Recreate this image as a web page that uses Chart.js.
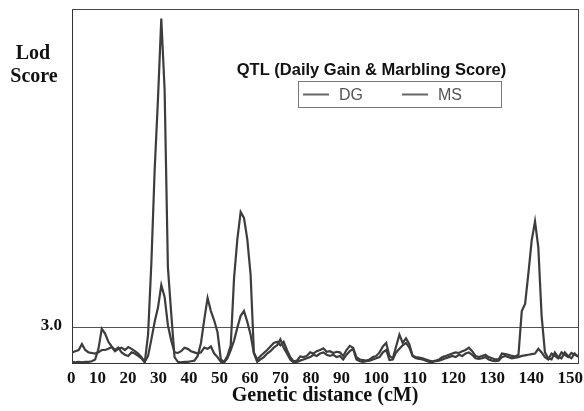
<!DOCTYPE html>
<html>
<head>
<meta charset="utf-8">
<script src="https://cdn.jsdelivr.net/npm/chart.js@4.4.1/dist/chart.umd.min.js"></script>
<style>
    html, body { margin: 0; padding: 0; background: #fff; }
    #wrap { position: relative; width: 584px; height: 411px; }
</style>
</head>
<body>
<div id="wrap"><canvas id="qtlChart"></canvas></div>
<script>
// Data (cM along the linear plot axis, LOD score)
const DISTANCE = [
    0, 1, 2, 3, 4, 5, 6, 7, 8, 9, 10, 11, 12, 13, 14, 15, 16, 17, 18, 19,
    20, 21, 22, 23, 24, 25, 26, 27, 28, 29, 30, 31, 32, 33, 34, 35, 36, 37, 38, 39,
    40, 41, 42, 43, 44, 45, 46, 47, 48, 49, 50, 51, 52, 53, 54, 55, 56, 57, 58, 59,
    60, 61, 62, 63, 64, 65, 66, 67, 68, 69, 70, 71, 72, 73, 74, 75, 76, 77, 78, 79,
    80, 81, 82, 83, 84, 85, 86, 87, 88, 89, 90, 91, 92, 93, 94, 95, 96, 97, 98, 99,
    100, 101, 102, 103, 104, 105, 106, 107, 108, 109, 110, 111, 112, 113, 114, 115, 116, 117, 118, 119,
    120, 121, 122, 123, 124, 125, 126, 127, 128, 129, 130, 131, 132, 133, 134, 135, 136, 137, 138, 139,
    140, 141, 142, 143, 144, 145, 146, 147, 148, 149, 150, 151, 152, 153
];

const DG = [
    0.1, 0.05, 0.1, 0.05, 0.1, 0.1, 0.15, 0.3, 1.2, 2.9, 2.5, 1.8, 1.4, 1.1, 1.3, 0.9, 0.7, 0.6, 0.9, 0.8,
    0.6, 0.4, 0.05, 2.4, 8.5, 16.4, 22.4, 29.2, 23.2, 8.1, 4.2, 0.5, 0.1, 0.05, 0.1, 0.1, 0.15, 0.2, 0.6, 1.7,
    3.7, 5.5, 4.4, 3.6, 2.6, 0.3, 0.1, 0.6, 1.5, 7.2, 10.5, 12.8, 12.3, 10.5, 7.5, 0.9, 0.3, 0.6, 0.85, 1.1,
    1.4, 1.7, 1.8, 1.5, 1.8, 1.1, 0.5, 0.15, 0.2, 0.55, 0.5, 0.6, 0.9, 0.8, 1.0, 1.1, 1.25, 0.95, 1.0, 0.85,
    0.95, 0.9, 0.6, 1.1, 1.45, 1.3, 0.5, 0.3, 0.25, 0.2, 0.3, 0.5, 0.6, 0.9, 1.4, 1.7, 0.6, 0.4, 1.4, 2.4,
    1.7, 2.1, 1.6, 0.6, 0.5, 0.45, 0.4, 0.3, 0.2, 0.15, 0.2, 0.3, 0.5, 0.6, 0.7, 0.8, 0.9, 0.85, 1.0, 1.1,
    1.3, 1.0, 0.6, 0.5, 0.6, 0.7, 0.5, 0.4, 0.3, 0.3, 0.8, 0.75, 0.7, 0.6, 0.55, 0.7, 4.4, 5.0, 7.6, 10.4,
    12.0, 9.8, 4.0, 0.9, 0.4, 0.3, 0.9, 0.5, 0.4, 0.9, 0.6, 0.4, 0.8, 0.5
];

const MS = [
    0.9, 1.0, 1.1, 1.6, 1.1, 0.9, 0.85, 0.8, 0.9, 1.1, 1.1, 1.2, 1.35, 1.0, 1.2, 1.3, 1.1, 1.35, 1.2, 1.0,
    0.8, 0.5, 0.1, 0.6, 2.0, 3.5, 4.7, 6.6, 5.6, 3.2, 1.9, 0.9, 0.85, 1.0, 1.3, 1.2, 1.0, 0.9, 0.8, 0.9,
    1.3, 1.2, 1.4, 0.8, 0.5, 0.1, 0.05, 0.4, 1.1, 1.9, 3.0, 4.0, 4.4, 3.5, 2.4, 0.8, 0.1, 0.3, 0.5, 0.8,
    1.0, 1.3, 1.5, 2.0, 1.3, 0.8, 0.3, 0.05, 0.1, 0.2, 0.3, 0.4, 0.5, 0.7, 0.6, 0.8, 0.9, 0.7, 0.6, 0.7,
    0.5, 0.6, 0.3, 0.7, 1.0, 1.2, 0.3, 0.15, 0.1, 0.15, 0.2, 0.3, 0.4, 0.5, 0.9, 1.1, 0.25, 0.3, 0.9, 1.2,
    1.5, 1.7, 1.3, 0.6, 0.4, 0.35, 0.3, 0.2, 0.1, 0.1, 0.15, 0.2, 0.3, 0.4, 0.5, 0.6, 0.5, 0.7, 0.6, 0.8,
    0.9, 0.7, 0.4, 0.35, 0.4, 0.5, 0.3, 0.2, 0.15, 0.2, 0.5, 0.6, 0.5, 0.4, 0.45, 0.5, 0.6, 0.65, 0.7, 0.75,
    0.8, 1.2, 0.9, 0.5, 0.3, 0.8, 0.6, 0.4, 0.9, 0.7, 0.5, 0.85, 0.7, 0.6
];

const SERIES_NAMES = ['DG', 'MS'];
const X_TICK_LABELS = ['0', '10', '20', '30', '40', '50', '60', '70', '80', '90', '100', '110', '120', '130', '140', '150'];
const Y_TICK_VALUES = [3.0];
const CHART_TITLE = 'QTL (Daily Gain & Marbling Score)';
const Y_TITLE = ['Lod', 'Score'];
const X_TITLE = 'Genetic distance (cM)';

const SERIF = '"Liberation Serif", "Times New Roman", serif';
const SANS = '"Liberation Sans", Arial, sans-serif';
const INK = '#111';
const LINE = '#3d3d3d';

function toPoints(values) {
    return DISTANCE.map((d, i) => ({ x: d, y: values[i] }));
}

// Text the figure places inside/around the plot by hand
const figureText = {
    id: 'figureText',
    afterDraw(chart) {
        const ctx = chart.ctx;
        ctx.save();

        // "Lod Score" heading at top left
        ctx.fillStyle = INK;
        ctx.font = 'bold 20px ' + SERIF;
        ctx.textAlign = 'center';
        ctx.textBaseline = 'alphabetic';
        ctx.fillText(Y_TITLE[0], 33, 59);
        ctx.fillText(Y_TITLE[1], 34, 82);

        // x tick labels, typeset as an evenly gapped row
        ctx.font = 'bold 17px ' + SERIF;
        ctx.textAlign = 'left';
        const widths = X_TICK_LABELS.map(t => ctx.measureText(t).width);
        const left = 67, right = 583;
        const gap = (right - left - widths.reduce((a, b) => a + b, 0)) / (X_TICK_LABELS.length - 1);
        let x = left;
        X_TICK_LABELS.forEach((t, i) => {
            ctx.fillText(t, x, 383);
            x += widths[i] + gap;
        });

        // title inside the plot
        ctx.font = 'bold 16.5px ' + SANS;
        ctx.textAlign = 'center';
        ctx.fillText(CHART_TITLE, 371.5, 75);

        // legend box
        ctx.strokeStyle = '#777';
        ctx.lineWidth = 1;
        ctx.strokeRect(298.5, 81.5, 203, 26);
        ctx.font = '16px ' + SANS;
        ctx.textAlign = 'left';
        chart.data.datasets.forEach((ds, i) => {
            const x0 = 303 + i * 99;
            ctx.strokeStyle = '#666';
            ctx.lineWidth = 2;
            ctx.beginPath();
            ctx.moveTo(x0, 94.5);
            ctx.lineTo(x0 + 26, 94.5);
            ctx.stroke();
            ctx.fillStyle = '#555';
            ctx.fillText(ds.label, x0 + 36, 100);
        });

        ctx.restore();
    }
};

function init() {
    const ctx = document.getElementById('qtlChart').getContext('2d');
    new Chart(ctx, {
        type: 'line',
        data: {
            datasets: [
                { label: SERIES_NAMES[0], data: toPoints(DG) },
                { label: SERIES_NAMES[1], data: toPoints(MS) }
            ].map(ds => Object.assign(ds, {
                borderColor: LINE,
                borderWidth: 2.2,
                pointRadius: 0,
                tension: 0,
                fill: false
            }))
        },
        options: {
            responsive: true,
            maintainAspectRatio: false,
            animation: false,
            layout: { padding: 0 },
            plugins: {
                legend: { display: false },
                tooltip: { enabled: false }
            },
            scales: {
                x: {
                    type: 'linear',
                    position: 'bottom',
                    min: 0,
                    max: 153,
                    grid: { display: false },
                    border: { display: true, color: '#333', width: 1 },
                    ticks: { display: false },
                    title: {
                        display: true,
                        text: X_TITLE,
                        color: INK,
                        font: { family: SERIF, size: 20, weight: 'bold' },
                        padding: { top: 0, bottom: 3 }
                    },
                    afterFit: s => { s.height = 48; }
                },
                y: {
                    type: 'linear',
                    position: 'left',
                    min: 0,
                    max: 30,
                    afterBuildTicks: s => { s.ticks = Y_TICK_VALUES.map(v => ({ value: v })); },
                    grid: { color: '#555', lineWidth: 1, drawTicks: false },
                    border: { display: true, color: '#333', width: 1 },
                    ticks: {
                        color: INK,
                        font: { family: SERIF, size: 17, weight: 'bold' },
                        padding: 10,
                        labelOffset: -2,
                        callback: v => Number(v).toFixed(1)
                    },
                    afterFit: s => {
                        s.width = 72;
                        s.paddingTop = 0;
                        s.paddingBottom = 0;
                    }
                },
                xTop: {
                    type: 'linear',
                    position: 'top',
                    display: true,
                    grid: { display: false },
                    border: { display: true, color: '#444', width: 1 },
                    ticks: { display: false },
                    afterFit: s => { s.height = 9; }
                },
                yRight: {
                    type: 'linear',
                    position: 'right',
                    display: true,
                    grid: { display: false },
                    border: { display: true, color: '#444', width: 1 },
                    ticks: { display: false },
                    afterFit: s => {
                        s.width = 6;
                        s.paddingTop = 0;
                        s.paddingBottom = 0;
                    }
                }
            }
        },
        plugins: [figureText]
    });
}

document.addEventListener('DOMContentLoaded', init);
</script>
</body>
</html>
